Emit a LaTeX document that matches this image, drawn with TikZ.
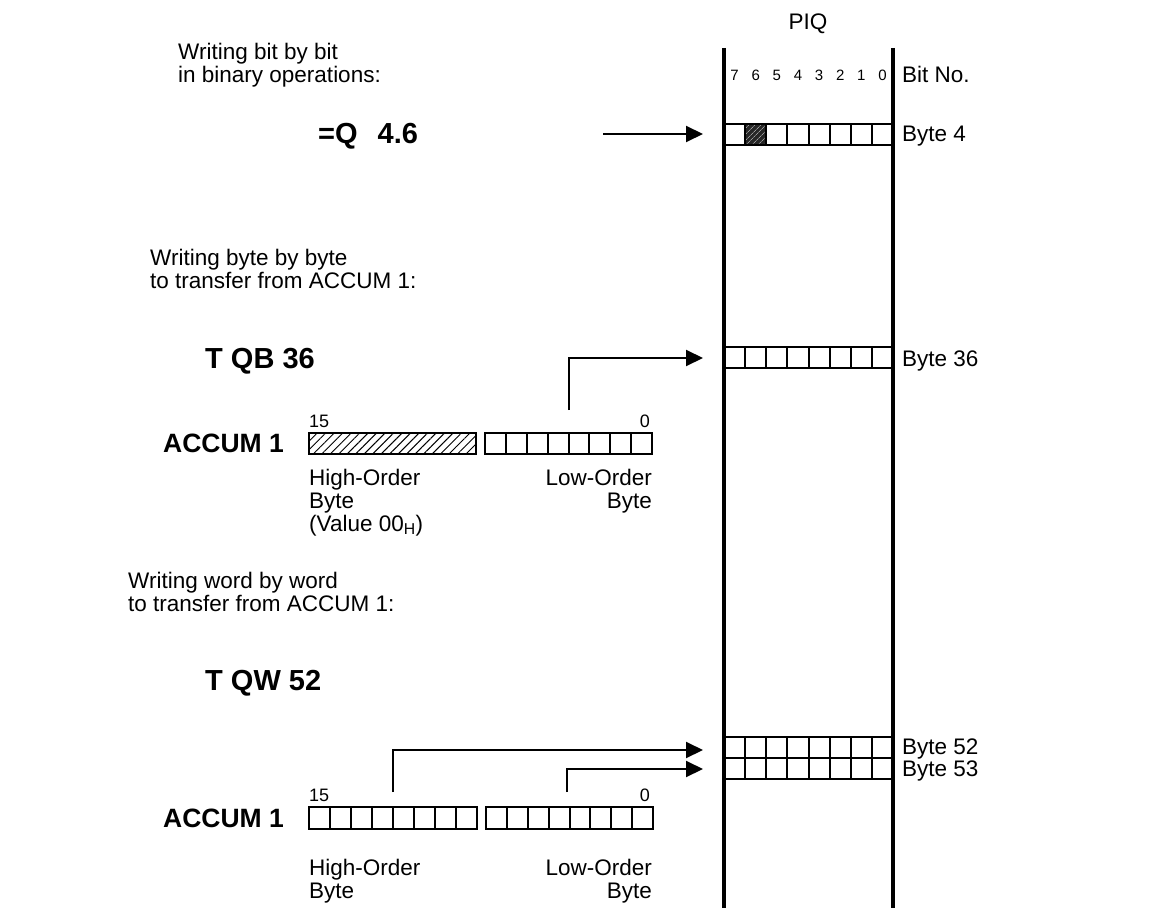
\documentclass[tikz,border=0pt]{standalone}
\usepackage{fontspec}
\setmainfont{Liberation Sans}
\usetikzlibrary{arrows.meta,patterns.meta}
\tikzset{
  txt/.style={font=\fontsize{22.5}{26}\selectfont, inner sep=0pt, anchor=base west},
  txtr/.style={txt, anchor=base east},
  bigl/.style={font=\fontsize{29}{32}\selectfont\bfseries, inner sep=0pt, anchor=base west},
  acc/.style={font=\fontsize{26.5}{29}\selectfont\bfseries, inner sep=0pt, anchor=base west},
  bitno/.style={font=\fontsize{15}{17}\selectfont, inner sep=0pt},
  numl/.style={font=\fontsize{18}{20}\selectfont, inner sep=0pt, anchor=base west},
  numr/.style={numl, anchor=base east},
  cell/.style={draw, line width=2pt},
  piqline/.style={line width=4pt},
  conn/.style={line width=2pt, -{Triangle[length=17pt,width=16pt]}},
}
\newcommand\eightcells[4]{% x1 x2 y1 y2
  \draw[cell] (#1,#3) rectangle (#2,#4);
  \foreach \k in {1,...,7}{\draw[cell] ({#1+\k*(#2-#1)/8},#3) -- ({#1+\k*(#2-#1)/8},#4);}
}
\begin{document}
\begin{tikzpicture}[x=1pt,y=-1pt]
\useasboundingbox (0,0) rectangle (1167,920);

% PIQ header
\node[font=\fontsize{22.5}{26}\selectfont, inner sep=0pt, anchor=base] (piq) at (808,30) {PIQ};
\foreach \b [count=\n from 0] in {7,6,5,4,3,2,1,0}{
  \node[bitno, anchor=base] (bit\b) at ({724+(\n+0.5)*169/8},81) {\b};
}
\node[txt] (bitno) at (902,83) {Bit No.};

% PIQ rows
\fill[black!85] ({724+169/8},124) rectangle ({724+2*169/8},145);
\fill[pattern={Lines[angle=45,distance=4pt,line width=0.7pt]}, pattern color=white!60!black] ({724+169/8},124) rectangle ({724+2*169/8},145);
\eightcells{724}{893}{124}{145}
\eightcells{724}{893}{347}{368}
\eightcells{724}{893}{737}{758}
\eightcells{724}{893}{758}{779}

% PIQ vertical lines
\draw[piqline] (724,48) coordinate (piqlt) -- (724,908) coordinate (piqlb);
\draw[piqline] (893,48) coordinate (piqrt) -- (893,908) coordinate (piqrb);

% right labels
\node[txt] (b4) at (902,142) {Byte 4};
\node[txt] (b36) at (902,366) {Byte 36};
\node[txt] (b52) at (902,754) {Byte 52};
\node[txt] (b53) at (902,776) {Byte 53};

% section 1
\node[txt] (t1a) at (178,60) {Writing bit by bit};
\node[txt] (t1b) at (178,83) {in binary operations:};
\node[bigl] (q46) at (318,144) {=Q\hspace{20pt}4.6};
\coordinate (a1s) at (603,134);
\coordinate (a1e) at (703,134);
\draw[conn] (a1s) -- (a1e);

% section 2
\node[txt] (t2a) at (150,265) {Writing byte by byte};
\node[txt] (t2b) at (150,288) {to transfer from ACCUM 1:};
\node[bigl] (tqb) at (205,368) {T QB 36};
\node[acc] (acc1) at (163,452) {ACCUM 1};
\node[numl] (n15a) at (309,427) {15};
\node[numr] (n0a) at (650,427) {0};
\draw[cell, pattern={Lines[angle=45,distance=6pt,line width=1pt]}] (309,433) rectangle (476,454);
\eightcells{485}{652}{433}{454}
\coordinate (a2s) at (569,410);
\coordinate (a2m) at (569,358);
\coordinate (a2e) at (703,358);
\draw[conn] (a2s) -- (a2m) -- (a2e);
\node[txt] (ho1) at (309,485) {High-Order};
\node[txt] (hb1) at (309,508) {Byte};
\node[txt] (hv1) at (309,531) {(Value 00\textsubscript{H})};
\node[txtr] (lo1) at (652,485) {Low-Order};
\node[txtr] (lb1) at (652,508) {Byte};

% section 3
\node[txt] (t3a) at (128,588) {Writing word by word};
\node[txt] (t3b) at (128,611) {to transfer from ACCUM 1:};
\node[bigl] (tqw) at (205,690) {T QW 52};
\node[acc] (acc2) at (163,827) {ACCUM 1};
\node[numl] (n15b) at (309,801) {15};
\node[numr] (n0b) at (650,801) {0};
\eightcells{309}{477}{807}{829}
\eightcells{486}{653}{807}{829}
\coordinate (a3s) at (393,792);
\coordinate (a3m) at (393,750);
\coordinate (a3e) at (703,750);
\draw[conn] (a3s) -- (a3m) -- (a3e);
\coordinate (a4s) at (567,792);
\coordinate (a4m) at (567,769);
\coordinate (a4e) at (703,769);
\draw[conn] (a4s) -- (a4m) -- (a4e);
\node[txt] (ho2) at (309,875) {High-Order};
\node[txt] (hb2) at (309,898) {Byte};
\node[txtr] (lo2) at (652,875) {Low-Order};
\node[txtr] (lb2) at (652,898) {Byte};
\end{tikzpicture}
\end{document}
